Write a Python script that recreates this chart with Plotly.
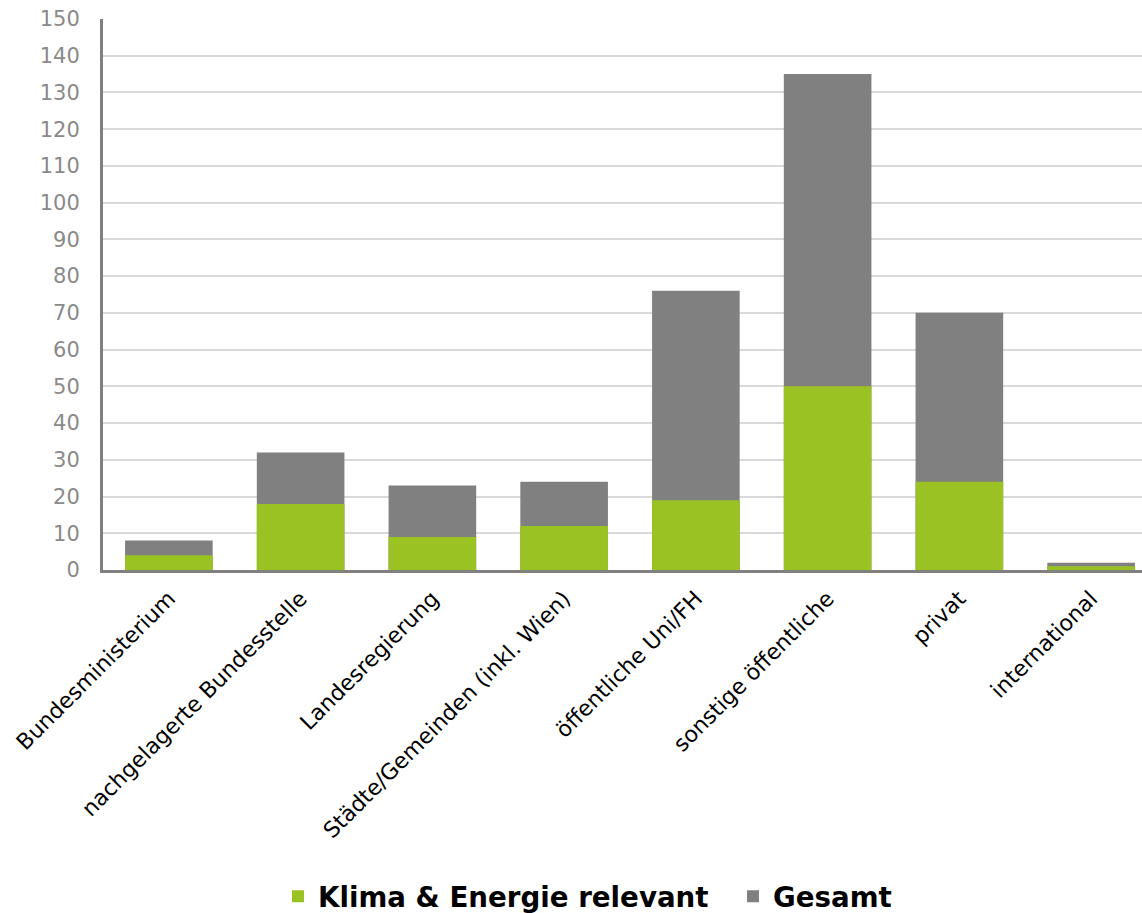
import plotly.graph_objects as go

categories = ["Bundesministerium", "nachgelagerte Bundesstelle", "Landesregierung",
              "Städte/Gemeinden (inkl. Wien)", "öffentliche Uni/FH", "sonstige öffentliche",
              "privat", "international"]
klima = [4, 18, 9, 12, 19, 50, 24, 1]
gesamt = [8, 32, 23, 24, 76, 135, 70, 2]

GREEN = "#9BC223"
GRAY = "#808080"

W = 1160  # plot extends slightly beyond the visible 1142px window, as in the reference

fig = go.Figure()
fig.add_trace(go.Bar(x=categories, y=gesamt, name="Gesamt", marker_color=GRAY,
                     marker_line_width=0, legendrank=2))
fig.add_trace(go.Bar(x=categories, y=klima, name="Klima & Energie relevant", marker_color=GREEN,
                     marker_line_width=0, legendrank=1))

fig.update_layout(
    width=W, height=913,
    barmode="overlay", bargap=0.335,
    plot_bgcolor="white", paper_bgcolor="white",
    margin=dict(l=103, r=3, t=19, b=343, autoexpand=False),
    font=dict(family="DejaVu Sans", color="#000000"),
    legend=dict(orientation="h", xref="container", x=278 / W, xanchor="left",
                y=-0.593, yanchor="middle",
                font=dict(size=27.7, family="DejaVu Sans", color="#000000", weight="bold"),
                traceorder="normal", itemsizing="constant",
                entrywidth=410, entrywidthmode="pixels"),
    xaxis=dict(tickangle=-45, tickfont=dict(size=22, color="#000000"),
               showline=True, linecolor=GRAY, linewidth=3, ticks="",
               ticklabelstandoff=4),
    yaxis=dict(range=[0, 150], dtick=10, tickfont=dict(size=21, color="#8a8a8a"),
               showgrid=True, gridcolor="#d9d9d9", gridwidth=2,
               showline=True, linecolor=GRAY, linewidth=3, ticks="", zeroline=False,
               ticklabelstandoff=16),
)

fig.write_html("out.html", config={"displayModeBar": False},
               post_script="document.body.style.margin='0';document.body.style.overflow='hidden';")
